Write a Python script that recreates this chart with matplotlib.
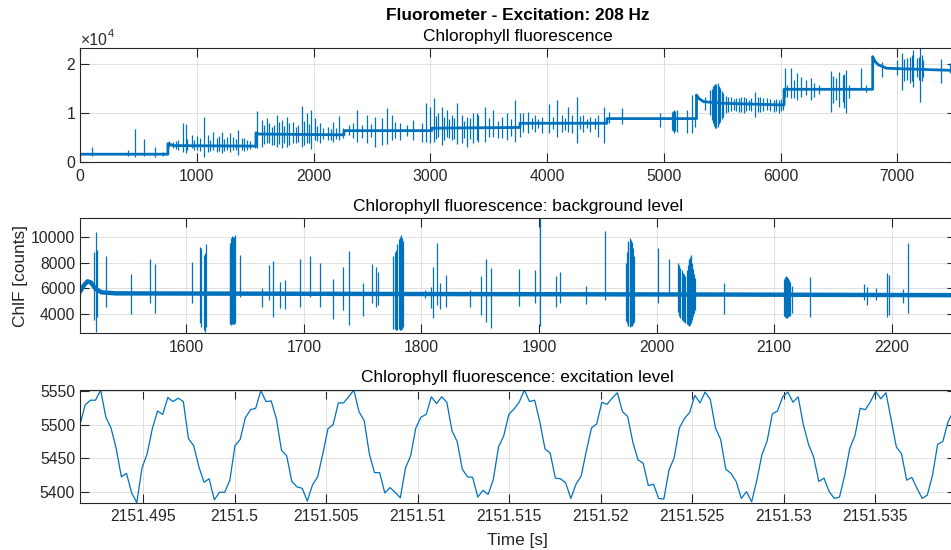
import numpy as np
import matplotlib
matplotlib.use('Agg')
import matplotlib.pyplot as plt

plt.rcParams['font.family'] = ['Liberation Sans', 'DejaVu Sans']

# ---------------- data ----------------
# Panel 1: Chlorophyll fluorescence, baseline of each segment and spikes
top_base_t = [0, 753, 753, 800, 1507, 1507, 1530, 2261, 2261, 3013, 3013, 3768, 3768, 4513,
              4513, 5280, 5280, 5300, 5340, 5500, 6030, 6030, 6789, 6789, 6810, 6840, 6910, 7500]
top_base_v = [1650, 1650, 3800, 3400, 3300, 6000, 5750, 5600, 6450, 6450, 6950, 7100, 7950, 7950,
              8900, 8900, 13700, 13000, 12360, 12020, 11680, 14870, 14870, 21520, 20500, 19830, 19150, 18700]

top_spk_t = [100, 414, 468, 551, 645, 714,
             762, 799, 822, 842, 879, 905, 919, 956, 979, 999, 1028, 1065, 1093, 1113, 1142, 1171, 1190,
             1213, 1233, 1256, 1285, 1313, 1336, 1356, 1385, 1405, 1427, 1456, 1499,
             1519, 1556, 1576, 1599, 1622, 1642, 1662, 1684, 1707, 1727, 1747, 1770, 1793, 1827, 1850,
             1870, 1901, 1918, 1941, 1958, 1978, 2013, 2033, 2056, 2084, 2127, 2150, 2170, 2193, 2218, 2255,
             2300, 2340, 2375, 2412, 2455, 2490, 2527, 2584, 2626, 2669, 2700, 2741, 2800, 2855, 2926,
             2963, 2998, 3032, 3050, 3069, 3098, 3120, 3140, 3160, 3183, 3200, 3232, 3269, 3290, 3312,
             3340, 3369, 3397, 3412, 3469, 3500, 3540, 3580, 3612, 3654, 3690, 3726, 3768,
             3797, 3840, 3870, 3897, 3925, 3954, 4017, 4050, 4083, 4126, 4150, 4177, 4212, 4254, 4280,
             4311, 4340, 4369, 4410, 4440, 4491,
             4534, 4640, 4968, 5068, 5078, 5088, 5100, 5111, 5197, 5240, 5269,
             5354, 5397, 5410, 5420, 5430, 5440, 5450, 5460, 5472, 5483, 5495, 5506, 5530, 5554, 5575,
             5597, 5620, 5640, 5660, 5683, 5705, 5726, 5750, 5783, 5805, 5826, 5850, 5883, 5910, 5940,
             5960, 5983, 6000, 6020,
             6036, 6059, 6088, 6116, 6145, 6173, 6216, 6259, 6288, 6330, 6431, 6450, 6473, 6502, 6531,
             6545, 6559, 6588, 6688, 6731,
             6866, 6995, 7038, 7060, 7081, 7110, 7125, 7138, 7167, 7185, 7196, 7210, 7224, 7376, 7453]
top_spk_lo = [1300, 1300, 1020, 1200, 1020, 1300,
              3190, 2850, 2700, 2510, 2170, 1830, 2500, 2850, 2600, 2510, 2300, 1150, 2170, 2400, 2510, 2170, 2300,
              1830, 2400, 2510, 2170, 2510, 2500, 1490, 2510, 2400, 2510, 2800, 2850,
              2850, 3190, 3800, 3870, 4000, 3530, 3600, 3190, 3700, 2850, 3900, 3190, 3500, 3870, 4000,
              4210, 3190, 3600, 3870, 3900, 2650, 4550, 4300, 3870, 4700, 4550, 4600, 4210, 4800, 4550, 4890,
              5600, 5000, 4210, 4890, 3870, 5200, 3190, 3530, 3730, 4550, 5000, 4550, 5400, 4550, 4210,
              4210, 3870, 4210, 4800, 5230, 3530, 4600, 5230, 5000, 4550, 4700, 3730, 3870, 5000, 3190,
              4800, 3870, 4550, 4210, 4210, 5200, 5230, 5000, 4890, 4550, 5300, 4210, 5230,
              6250, 5910, 6800, 6250, 6900, 5910, 5910, 6700, 5090, 6250, 6600, 6250, 5910, 3870, 6700,
              6250, 6900, 6250, 6800, 5230, 3870,
              7940, 7810, 7270, 6590, 6400, 6040, 6300, 6250, 5910, 6040, 7270,
              10660, 9640, 8600, 7940, 7300, 6930, 7000, 7270, 7800, 8280, 8800, 9300, 10000, 10320, 10500,
              10660, 10400, 10320, 10200, 9980, 10500, 10660, 10400, 9300, 10300, 10320, 10500, 10660, 10400, 10320,
              10500, 9980, 10400, 10660,
              13380, 13380, 13170, 13040, 12700, 13380, 13720, 12700, 13380, 14000, 10320, 12000, 12700, 11340, 12360,
              11000, 9980, 13040, 14730, 14400,
              17450, 17790, 14730, 16500, 16770, 16090, 16500, 15410, 17450, 16800, 12360, 16500, 17450, 16230, 18130]
top_spk_hi = [3190, 2510, 6790, 4685, 3190, 2170,
              4410, 4210, 4300, 4550, 7940, 7810, 4800, 5570, 4500, 5360, 5000, 9300, 5570, 4600, 6250, 4890, 5400,
              6250, 4700, 5230, 5910, 5230, 4800, 6590, 4890, 5000, 4550, 4300, 4210,
              10460, 8620, 7500, 8960, 8000, 7270, 7600, 9640, 8300, 8620, 7400, 9300, 8000, 8280, 7100,
              7600, 11480, 8400, 9980, 7800, 10660, 8960, 7300, 7940, 6900, 7270, 6800, 8280, 7000, 9510, 6930,
              7500, 8000, 10660, 7600, 9640, 7800, 9300, 8960, 11000, 9640, 8200, 7940, 7600, 8620, 7940,
              12020, 11340, 13040, 9500, 9980, 11340, 9200, 10660, 8800, 9640, 9000, 12020, 9640, 8500, 9300,
              9000, 9980, 9980, 9640, 11340, 9000, 10660, 8500, 9300, 9980, 8800, 12700, 9980,
              9980, 10320, 9000, 9640, 8800, 9300, 11810, 9200, 12700, 9640, 9000, 11340, 9640, 13380, 9500,
              9640, 8800, 9300, 9000, 9640, 11200,
              10320, 11000, 9980, 10320, 10500, 10660, 10400, 10660, 10660, 13720, 8960,
              13380, 14730, 15000, 15550, 15800, 15960, 16000, 16090, 15500, 15070, 14500, 14060, 13600, 13380, 13200,
              12830, 13100, 13040, 13200, 13380, 13000, 12700, 13000, 14400, 13200, 13380, 13000, 13040, 12900, 12700,
              12800, 12700, 12900, 12360,
              19150, 15750, 19150, 16770, 18130, 17450, 16770, 17110, 16090, 15800, 18670, 17500, 17110, 18470, 17790,
              18000, 18810, 15750, 19150, 15750,
              20510, 20850, 22200, 21000, 21180, 21520, 21800, 22880, 21180, 21500, 23600, 21800, 20850, 20980, 20170]

top_xticks = [0, 1000, 2000, 3000, 4000, 5000, 6000, 7000]
top_yticks = [0, 10000, 20000]
top_yticklabels = ['0', '1', '2']

# Panel 2: background level
mid_base_t = [1510, 1513, 1516, 1519, 1523, 1528, 1540, 1800, 2050, 2254]
mid_base_v = [5800, 6250, 6550, 6450, 5950, 5700, 5620, 5570, 5530, 5480]

mid_spk_t = [1521.6, 1523.3, 1524.1, 1531.5, 1553.3, 1569.4, 1573.1, 1605.1, 1611.3, 1612.7, 1614.7,
             1616.1, 1617.0, 1636.8, 1637.5, 1637.9, 1638.5, 1639.1, 1639.7, 1640.2, 1640.8, 1641.3,
             1645.8, 1664.5, 1670.1, 1674.1, 1680.0, 1684.0, 1697.0, 1705.5, 1714.0, 1724.4, 1732.9,
             1738.6, 1749.9, 1757.9, 1761.3, 1763.2, 1776.0, 1777.2, 1778.3, 1779.5, 1780.6, 1781.6,
             1782.5, 1783.2, 1783.9, 1803.1, 1808.0, 1809.9, 1813.6, 1815.9, 1821.2, 1841.3, 1850.7,
             1854.7, 1859.2, 1883.0, 1896.3, 1900.8, 1914.1, 1917.7, 1939.6, 1956.2, 1973.5, 1974.4,
             1975.2, 1976.0, 1976.9, 1977.8, 1978.6, 1979.6, 1980.6, 2000.9, 2010.3, 2018.2, 2019.2,
             2020.2, 2021.2, 2022.2, 2023.3, 2024.4, 2025.4, 2026.4, 2027.1, 2027.8, 2028.4, 2029.0,
             2029.8, 2030.7, 2031.8, 2033.0, 2057.3, 2108.0, 2109.0, 2110.0, 2110.8, 2111.7, 2112.7,
             2113.7, 2115.0, 2130.6, 2176.7, 2179.2, 2186.3, 2196.2, 2197.9, 2209.2, 2213.4]
mid_spk_lo = [3560, 2660, 3820, 4540, 4000, 4850, 4130, 4850, 3300, 3050, 2790,
              2660, 3050, 3300, 3250, 3200, 3250, 3300, 3280, 3250, 3280, 3300,
              5360, 4590, 5110, 3770, 4460, 4390, 4590, 5310, 4540, 3610, 4330,
              3180, 3870, 4850, 4590, 4720, 2900, 2850, 2800, 2820, 2850, 2820,
              2790, 2900, 3000, 5240, 4460, 3690, 4720, 4390, 4590, 4590, 3950,
              3430, 2920, 4640, 4850, 3100, 4590, 4850, 4800, 5110, 3500, 3300,
              3100, 3080, 3050, 3080, 3100, 3250, 3400, 4900, 5570, 4200, 3900,
              3700, 3600, 3500, 3400, 3300, 3250, 3200, 3150, 3100, 3200, 3300,
              3600, 3900, 4100, 4300, 4030, 3900, 3800, 3700, 3750, 3800, 3850,
              3900, 4100, 3820, 5110, 4720, 5110, 3820, 3950, 4900, 4130]
mid_spk_hi = [8840, 10330, 8970, 8510, 7090, 8250, 7890, 8070, 9230, 9150, 8580,
              8710, 9430, 9230, 9500, 9870, 9950, 10050, 9950, 9900, 10000, 10100,
              8580, 6010, 7810, 8150, 6520, 6650, 8270, 8530, 7940, 6700, 7630,
              8890, 6450, 7890, 7680, 7270, 8500, 8800, 9000, 9400, 9800, 10000,
              10130, 9900, 9700, 5900, 6140, 7630, 9480, 6390, 7040, 5880, 6960,
              8250, 7550, 7500, 7420, 11420, 6960, 7300, 6190, 10440, 8000, 8800,
              9500, 9700, 9870, 9750, 9600, 9100, 8500, 9100, 8250, 8000, 7800,
              7600, 7400, 7200, 7100, 7000, 7400, 7800, 8100, 8300, 8450, 8580,
              8000, 7500, 7100, 6800, 6390, 6700, 6850, 6960, 6900, 6800, 6650,
              6500, 6200, 6860, 6320, 6140, 6010, 7170, 7040, 5930, 9480]

mid_xticks = [1600, 1700, 1800, 1900, 2000, 2100, 2200]
mid_yticks = [4000, 6000, 8000, 10000]

# Panel 3: excitation level (one sample every ~0.28 ms)
exc_t0 = 2151.49156
exc_dt = 2.822e-4
exc_v = [5500, 5529, 5536, 5536, 5551, 5511, 5495, 5465, 5423, 5428, 5399, 5385, 5436, 5457, 5494,
         5520, 5515, 5540, 5534, 5539, 5534, 5479, 5469, 5438, 5415, 5420, 5389, 5400, 5400,
         5418, 5469, 5478, 5510, 5522, 5524, 5550, 5534, 5535, 5509, 5462, 5454, 5416, 5408, 5406,
         5387, 5411, 5423, 5457, 5494, 5500, 5532, 5532, 5541, 5551, 5519, 5506, 5457,
         5429, 5429, 5399, 5407, 5400, 5392, 5436, 5454, 5495, 5511, 5515, 5541, 5531, 5541, 5533,
         5491, 5475, 5434, 5423, 5422, 5393, 5403, 5397, 5419, 5467, 5483, 5515, 5523,
         5533, 5551, 5534, 5536, 5504, 5464, 5458, 5421, 5420, 5414, 5391, 5412, 5424, 5461, 5495,
         5501, 5533, 5530, 5539, 5547, 5519, 5512, 5474, 5448, 5443, 5410, 5412, 5391,
         5390, 5433, 5451, 5495, 5509, 5518, 5543, 5532, 5548, 5537, 5495, 5478, 5434, 5428, 5416,
         5391, 5401, 5386, 5418, 5456, 5476, 5516, 5520, 5541, 5548, 5533, 5541, 5500, 5471,
         5452, 5416, 5421, 5401, 5391, 5393, 5425, 5465, 5484, 5524, 5522, 5534, 5549, 5538, 5547,
         5507, 5467, 5457, 5418, 5422, 5406, 5391, 5396, 5425, 5471, 5475, 5504, 5519]
exc_xticks = [2151.495, 2151.5, 2151.505, 2151.51, 2151.515, 2151.52, 2151.525, 2151.53, 2151.535]
exc_xticklabels = ['2151.495', '2151.5', '2151.505', '2151.51', '2151.515', '2151.52',
                   '2151.525', '2151.53', '2151.535']
exc_yticks = [5400, 5450, 5500, 5550]

main_title = 'Fluorometer - Excitation: 208 Hz'
titles = ['Chlorophyll fluorescence',
          'Chlorophyll fluorescence: background level',
          'Chlorophyll fluorescence: excitation level']

# ---------------- drawing ----------------
BLUE = '#0072BD'
AXC = '#262626'
GRID = '#e0e0e0'
FS = 11.3
FS_T = 12.4

W, H = 951, 550
fig = plt.figure(figsize=(W / 100, H / 100), dpi=100)


def box(l, t, r, b):
    return [l / W, 1 - b / H, (r - l) / W, (b - t) / H]


ax1 = fig.add_axes(box(80, 48.3, 955.7, 162.3))
ax2 = fig.add_axes(box(80, 218.3, 955.7, 332.7))
ax3 = fig.add_axes(box(80, 389.7, 955.7, 502.5))


def style(ax, title):
    for s in ax.spines.values():
        s.set_color(AXC)
        s.set_linewidth(0.8)
    ax.tick_params(which='both', direction='in', length=6.4, width=0.8, color=AXC,
                   labelcolor=AXC, labelsize=FS, top=True, right=True)
    ax.tick_params(axis='x', pad=5.0)
    ax.tick_params(axis='y', pad=3.5)
    ax.grid(True, color=GRID, linewidth=0.7)
    ax.set_axisbelow(True)
    ax.set_title(title, fontsize=FS_T, pad=5.4, color='black')


# panel 1
ax1.plot(top_base_t, top_base_v, color=BLUE, lw=2.0)
ax1.vlines(top_spk_t, top_spk_lo, top_spk_hi, color=BLUE, lw=0.9)
ax1.set_xlim(0, 7500)
ax1.set_ylim(0, 23220)
ax1.set_xticks(top_xticks)
ax1.set_yticks(top_yticks)
ax1.set_yticklabels(top_yticklabels)
style(ax1, titles[0])

# panel 2
ax2.plot(mid_base_t, mid_base_v, color=BLUE, lw=3.2)
ax2.vlines(mid_spk_t, mid_spk_lo, mid_spk_hi, color=BLUE, lw=0.9)
ax2.set_xlim(1509.6, 2254.3)
ax2.set_ylim(2584, 11416)
ax2.set_xticks(mid_xticks)
ax2.set_yticks(mid_yticks)
style(ax2, titles[1])

# panel 3
exc_t = exc_t0 + exc_dt * np.arange(len(exc_v))
ax3.plot(exc_t, exc_v, color=BLUE, lw=0.9)
ax3.set_xlim(exc_t0, 2151.53939)
ax3.set_ylim(min(exc_v), max(exc_v) + 0.5)
ax3.set_xticks(exc_xticks)
ax3.set_xticklabels(exc_xticklabels)
ax3.set_yticks(exc_yticks)
style(ax3, titles[2])

# texts
cx = (80 + 955.7) / 2 / W
fig.text(cx, 1 - 20 / H, main_title, ha='center', va='baseline',
         fontsize=FS_T, fontweight='bold', color='black')
base = fig.text(81 / W, 1 - 45 / H, '\u00d710', ha='left', va='baseline', fontsize=FS, color=AXC)
ax1.annotate('4', xy=(1.0, 0.62), xycoords=base, ha='left', va='bottom',
             fontsize=FS * 0.72, color=AXC, annotation_clip=False)
fig.text(20.5 / W, 1 - 276 / H, 'ChlF [counts]', rotation=90, ha='center', va='center',
         fontsize=FS_T, color=AXC)
fig.text(cx, 1 - 544.5 / H, 'Time [s]', ha='center', va='baseline', fontsize=FS_T, color=AXC)

fig.savefig('out.png', dpi=100)
